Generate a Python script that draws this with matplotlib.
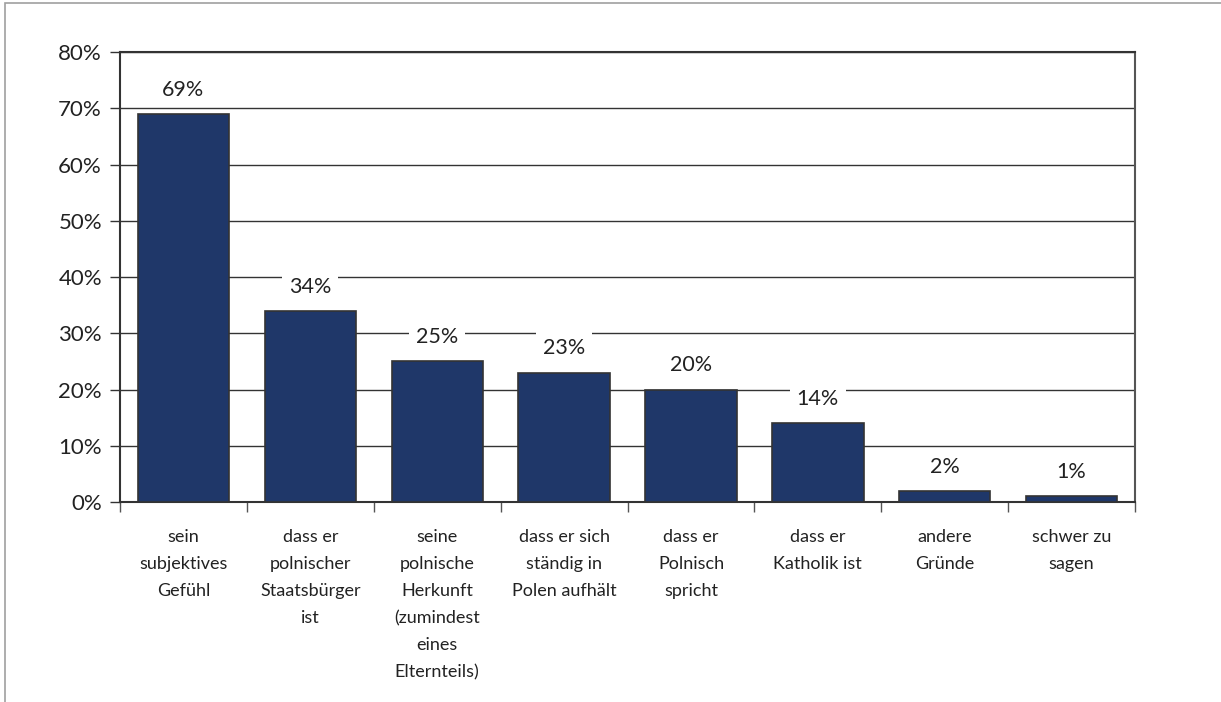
import matplotlib.pyplot as plt
from matplotlib.patches import Rectangle
import numpy as np

# data
categories = [
    'sein\nsubjektives\nGefühl',
    'dass er\npolnischer\nStaatsbürger\nist',
    'seine\npolnische\nHerkunft\n(zumindest\neines\nElternteils)',
    'dass er sich\nständig in\nPolen aufhält',
    'dass er\nPolnisch\nspricht',
    'dass er\nKatholik ist',
    'andere\nGründe',
    'schwer zu\nsagen',
]
values = [69, 34, 25, 23, 20, 14, 2, 1]
yticks = [0, 10, 20, 30, 40, 50, 60, 70, 80]

plt.rcParams['font.family'] = ['Lato', 'DejaVu Sans']

fig = plt.figure(figsize=(12.21, 7.02), dpi=100)
ax = fig.add_axes([0.0983, 0.2849, 0.8313, 0.6410])

# outer frame of the image
fig.patches.append(Rectangle((5 / 1221, -0.2), 1.5, 1.2 - 3 / 702, transform=fig.transFigure,
                             fill=False, edgecolor='#a0a0a0', linewidth=1.2))

x = np.arange(len(categories))
ax.bar(x, values, width=0.72, color='#1f3769', edgecolor='#333333', linewidth=1.2, zorder=3)

for xi, v in zip(x, values):
    ax.text(xi, v + 4.3, f'{v}%', ha='center', va='center', fontsize=15.5, color='#222222',
            bbox=dict(facecolor='white', edgecolor='none', pad=5), zorder=4)

ax.set_xlim(-0.5, len(categories) - 0.5)
ax.set_ylim(0, 80)
ax.set_yticks(yticks)
ax.set_yticklabels([f'{t}%' for t in yticks], fontsize=16, color='#222222')
ax.yaxis.grid(True, color='#333333', linewidth=1)
ax.set_axisbelow(True)

# category labels below, ticks between categories
ax.set_xticks(np.arange(len(categories) + 1) - 0.5)
ax.set_xticklabels([])
ax.tick_params(axis='x', direction='out', length=7, color='#555555', width=1)
ax.tick_params(axis='y', direction='out', length=7, color='#333333', width=1, pad=6)
for xi, c in zip(x, categories):
    ax.text(xi, -4.8, c, ha='center', va='top', fontsize=13, color='#222222',
            linespacing=1.85)

for s in ax.spines.values():
    s.set_color('#333333')
    s.set_linewidth(1.5)
ax.spines['right'].set_color('#555555')

plt.savefig('out.png', dpi=100)
